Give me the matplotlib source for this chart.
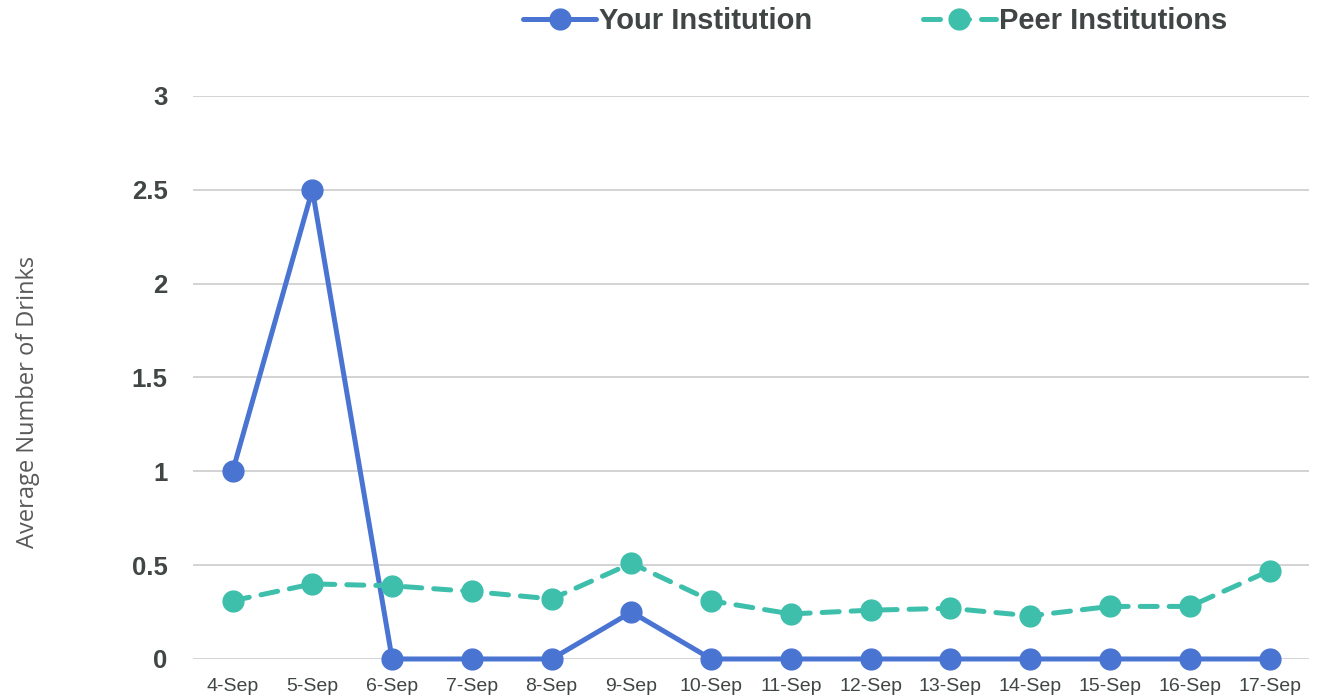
import matplotlib
matplotlib.use("Agg")
import matplotlib.pyplot as plt

dates = ["4-Sep", "5-Sep", "6-Sep", "7-Sep", "8-Sep", "9-Sep", "10-Sep",
         "11-Sep", "12-Sep", "13-Sep", "14-Sep", "15-Sep", "16-Sep", "17-Sep"]
your_inst = [1.0, 2.5, 0, 0, 0, 0.25, 0, 0, 0, 0, 0, 0, 0, 0]
peer_inst = [0.31, 0.40, 0.39, 0.36, 0.32, 0.51, 0.31, 0.24, 0.26, 0.27, 0.23, 0.28, 0.28, 0.47]
y_ticks = [0, 0.5, 1, 1.5, 2, 2.5, 3]
y_tick_labels = ["0", "0.5", "1", "1.5", "2", "2.5", "3"]

blue = "#4a74d1"
teal = "#3dbfac"
txt = "#404545"

plt.rcParams['font.family'] = ['Liberation Sans', 'DejaVu Sans']

fig = plt.figure(figsize=(13.2, 6.98), dpi=100)
ax = fig.add_axes([0.146, 0.0559, 0.846, 0.8066])

x = list(range(len(dates)))
ax.plot(x, your_inst, color=blue, lw=3.6, marker='o', ms=15, solid_capstyle='round',
        label="Your Institution", zorder=3)
ax.plot(x, peer_inst, color=teal, lw=3.6, marker='o', ms=15, linestyle=(0, (3.4, 2.4)),
        dash_capstyle='round', label="Peer Institutions", zorder=3)

ax.set_xlim(-0.5, len(dates) - 0.5)
ax.set_ylim(0, 3)
ax.set_yticks(y_ticks)
ax.set_yticklabels(y_tick_labels, fontsize=18.5, fontweight='bold', color=txt)
ax.set_xticks(x)
ax.set_xticklabels(dates, fontsize=14, color=txt)
ax.tick_params(axis='both', length=0)
ax.tick_params(axis='y', pad=18)
ax.tick_params(axis='x', pad=14)
ax.grid(axis='y', color='#d0d0d0', lw=1.3)
ax.set_axisbelow(True)
for s in ax.spines.values():
    s.set_visible(False)
for line in ax.lines:
    line.set_clip_on(False)

fig.text(0.021, 0.424, "Average Number of Drinks", rotation=90, fontsize=17,
         color='#595959', family=['Open Sans', 'DejaVu Sans'], ha='center', va='center')

leg = fig.legend(loc='center', bbox_to_anchor=(0.663, 0.97), ncol=2, frameon=False,
                 prop={'size': 21, 'weight': 'bold'}, handlelength=2.5,
                 columnspacing=3.8, handletextpad=0.1, labelcolor=txt)

fig.savefig("out.png", dpi=100)
